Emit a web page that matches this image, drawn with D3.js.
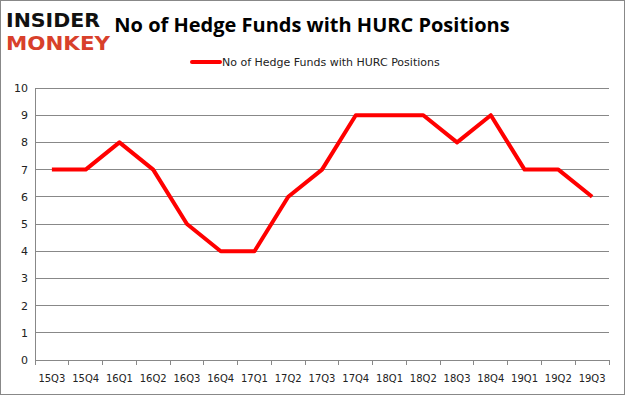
<!DOCTYPE html>
<html>
<head>
<meta charset="utf-8">
<script src="https://cdn.jsdelivr.net/npm/d3@7"></script>
<style>
body { margin: 0; background: #fff; }
svg { display: block; font-family: "DejaVu Sans", Verdana, sans-serif; }
</style>
</head>
<body>
<svg id="chart" width="625" height="395"></svg>
<script>
const quarters = ["15Q3","15Q4","16Q1","16Q2","16Q3","16Q4","17Q1","17Q2","17Q3","17Q4","18Q1","18Q2","18Q3","18Q4","19Q1","19Q2","19Q3"];
const funds = [7,7,8,7,5,4,4,6,7,9,9,9,8,9,7,7,6];
const yTicks = [0,1,2,3,4,5,6,7,8,9,10];
const seriesName = "No of Hedge Funds with HURC Positions";

const svg = d3.select("#chart");
const margin = { left: 35, right: 609, top: 88, bottom: 360 };

svg.append("rect")
    .attr("x", 0.5).attr("y", 0.5)
    .attr("width", 624).attr("height", 394)
    .attr("fill", "#fff").attr("stroke", "#888");

const x = d3.scaleBand().domain(quarters).range([margin.left, margin.right]);
const y = d3.scaleLinear().domain([0, 10]).range([margin.bottom, margin.top]);

// grid
svg.append("g").selectAll("line").data(yTicks).join("line")
    .attr("x1", margin.left).attr("x2", margin.right)
    .attr("y1", d => y(d)).attr("y2", d => y(d))
    .attr("stroke", "#888").attr("stroke-width", 1)
    .attr("shape-rendering", "crispEdges");

// y axis
svg.append("line")
    .attr("x1", margin.left).attr("x2", margin.left)
    .attr("y1", margin.top).attr("y2", margin.bottom + 5)
    .attr("stroke", "#888").attr("shape-rendering", "crispEdges");

svg.append("g").selectAll("text").data(yTicks).join("text")
    .attr("x", margin.left - 7)
    .attr("y", d => y(d) + 4)
    .attr("text-anchor", "end")
    .attr("font-size", 11)
    .attr("fill", "#222")
    .text(d => d);

// x axis ticks
const xEdges = quarters.map(q => x(q)).concat([margin.right]);
svg.append("g").selectAll("line").data(xEdges).join("line")
    .attr("x1", d => d).attr("x2", d => d)
    .attr("y1", margin.bottom).attr("y2", margin.bottom + 5)
    .attr("stroke", "#888").attr("shape-rendering", "crispEdges");

svg.append("g").selectAll("text").data(quarters).join("text")
    .attr("x", d => x(d) + x.bandwidth() / 2)
    .attr("y", 382)
    .attr("text-anchor", "middle")
    .attr("font-size", 10)
    .attr("fill", "#222")
    .text(d => d);

// line
const line = d3.line()
    .x((d, i) => x(quarters[i]) + x.bandwidth() / 2)
    .y(d => y(d));

svg.append("path")
    .datum(funds)
    .attr("d", line)
    .attr("fill", "none")
    .attr("stroke", "#ff0000")
    .attr("stroke-width", 4)
    .attr("stroke-linejoin", "round");

// title
svg.append("text")
    .attr("x", 312).attr("y", 32)
    .attr("text-anchor", "middle")
    .attr("font-family", "'Open Sans', 'DejaVu Sans', sans-serif")
    .attr("font-size", 20)
    .attr("font-weight", "bold")
    .attr("fill", "#000")
    .text("No of Hedge Funds with HURC Positions");

// legend
svg.append("line")
    .attr("x1", 192).attr("x2", 220)
    .attr("y1", 62).attr("y2", 62)
    .attr("stroke", "#ff0000").attr("stroke-width", 4)
    .attr("stroke-linecap", "round");
svg.append("text")
    .attr("x", 222).attr("y", 66)
    .attr("font-size", 11)
    .attr("fill", "#222")
    .text(seriesName);

// logo
svg.append("text")
    .attr("x", 6).attr("y", 27)
    .attr("font-family", "'DejaVu Sans', sans-serif")
    .attr("font-weight", "bold")
    .attr("font-size", 19)
    .attr("textLength", 94)
    .attr("lengthAdjust", "spacingAndGlyphs")
    .attr("fill", "#111")
    .text("INSIDER");
svg.append("text")
    .attr("x", 6).attr("y", 50)
    .attr("font-family", "'DejaVu Sans', sans-serif")
    .attr("font-weight", "bold")
    .attr("font-size", 19)
    .attr("textLength", 104)
    .attr("lengthAdjust", "spacingAndGlyphs")
    .attr("fill", "#d8402b")
    .text("MONKEY");
</script>
</body>
</html>
